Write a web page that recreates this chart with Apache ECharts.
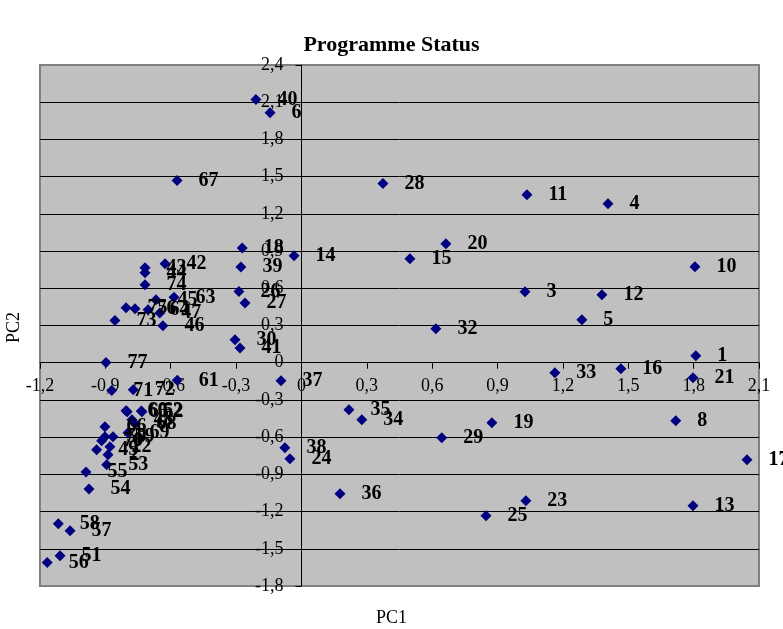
<!DOCTYPE html>
<html>
<head>
<meta charset="utf-8">
<script src="https://cdn.jsdelivr.net/npm/echarts@6/dist/echarts.min.js"></script>
<style>html,body{margin:0;padding:0;background:#fff}#c{width:783px;height:629px}</style>
</head>
<body>
<div id="c"></div>
<script>
const ids = [1,3,4,5,6,8,10,11,12,13,14,15,16,17,18,19,20,21,23,24,25,26,27,28,29,30,32,33,34,35,36,37,38,39,40,41,42,43,44,45,46,47,51,52,54,55,56,57,58,60,61,62,63,64,65,66,67,68,48,69,59,50,70,49,22,53,2,71,72,73,74,75,76,77];
const pc1 = [1.81,1.026,1.407,1.287,-0.144,1.718,1.806,1.035,1.379,1.797,-0.034,0.498,1.466,2.045,-0.272,0.874,0.663,1.797,1.03,-0.053,0.847,-0.287,-0.259,0.374,0.644,-0.305,0.617,1.163,0.277,0.218,0.177,-0.094,-0.076,-0.278,-0.209,-0.282,-0.626,-0.718,-0.718,-0.668,-0.636,-0.65,-1.108,-0.732,-0.975,-0.989,-1.167,-1.062,-1.116,-0.805,-0.57,-0.735,-0.585,-0.704,-0.8,-0.902,-0.571,-0.764,-0.778,-0.796,-0.865,-0.902,-0.917,-0.94,-0.879,-0.894,-0.888,-0.871,-0.772,-0.856,-0.718,-0.805,-0.764,-0.897];
const pc2 = [0.056,0.573,1.282,0.347,2.016,-0.468,0.774,1.355,0.548,-1.153,0.863,0.839,-0.048,-0.782,0.925,-0.484,0.96,-0.121,-1.113,-0.774,-1.234,0.575,0.481,1.444,-0.605,0.185,0.274,-0.081,-0.46,-0.379,-1.056,-0.145,-0.685,0.772,2.121,0.118,0.798,0.765,0.725,0.508,0.298,0.4,-1.556,-0.395,-1.019,-0.88,-1.61,-1.355,-1.298,-0.387,-0.142,-0.39,0.527,0.427,-0.395,-0.516,1.468,-0.492,-0.46,-0.565,-0.597,-0.597,-0.629,-0.702,-0.677,-0.823,-0.742,-0.223,-0.218,0.341,0.629,0.444,0.435,0.002];
const xTicks = {min:-1.2, max:2.1, step:0.3};
const yTicks = {min:-1.8, max:2.4, step:0.3};

const fmt = v => { const r = Math.round(v*10)/10; return r === 0 ? '0' : r.toFixed(1).replace('.', ','); };
const serif = '"Liberation Serif", "Times New Roman", serif';

const G = {left: 40, right: 24, top: 65, bottom: 43};
const W = 783, H = 629;
const gw = W - G.left - G.right, gh = H - G.top - G.bottom;
// shift axes so they cross at the origin
const yAxisOffset = -gw * (0 - xTicks.min) / (xTicks.max - xTicks.min);
const xAxisOffset = -gh * (0 - yTicks.min) / (yTicks.max - yTicks.min);

const chart = echarts.init(document.getElementById('c'));
chart.setOption({
  animation: false,
  title: {text: 'Programme Status', left: 'center', top: 29, textStyle: {fontFamily: serif, fontSize: 22, fontWeight: 'bold', color: '#000'}},
  grid: Object.assign({show: true, backgroundColor: '#c0c0c0', borderColor: '#808080', borderWidth: 2, containLabel: false, outerBoundsMode: 'none'}, G),
  xAxis: {type: 'value', min: xTicks.min, max: xTicks.max, interval: xTicks.step, position: 'bottom', offset: xAxisOffset,
    axisLine: {onZero: false, lineStyle: {color: '#000', width: 1}},
    axisTick: {show: true, inside: false, length: 6, lineStyle: {color: '#000'}},
    axisLabel: {formatter: fmt, fontFamily: serif, fontSize: 18, color: '#000', margin: 15},
    splitLine: {show: false}},
  yAxis: {type: 'value', min: yTicks.min, max: yTicks.max, interval: yTicks.step, position: 'left', offset: yAxisOffset,
    axisLine: {onZero: false, lineStyle: {color: '#000', width: 1}},
    axisTick: {show: true, inside: false, length: 6, lineStyle: {color: '#000'}},
    axisLabel: {formatter: fmt, fontFamily: serif, fontSize: 18, color: '#000', margin: 18},
    splitLine: {show: true, showMinLine: false, showMaxLine: false, lineStyle: {color: '#000', width: 1}}},
  graphic: [
    {type: 'text', left: 'center', top: 609, style: {text: 'PC1', font: '18px ' + serif, fill: '#000'}, x: 9},
    {type: 'text', left: 5, top: 312, rotation: Math.PI/2, style: {text: 'PC2', font: '18px ' + serif, fill: '#000'}}
  ],
  series: [{
    type: 'scatter', symbol: 'diamond', symbolSize: 11,
    itemStyle: {color: '#000080', opacity: 1},
    data: ids.map((id, i) => ({value: [pc1[i], pc2[i]], name: String(id)})),
    label: {show: true, position: 'right', distance: 16, formatter: p => p.name,
      fontFamily: serif, fontSize: 20, fontWeight: 'bold', color: '#000'}
  }]
});
</script>
</body>
</html>
